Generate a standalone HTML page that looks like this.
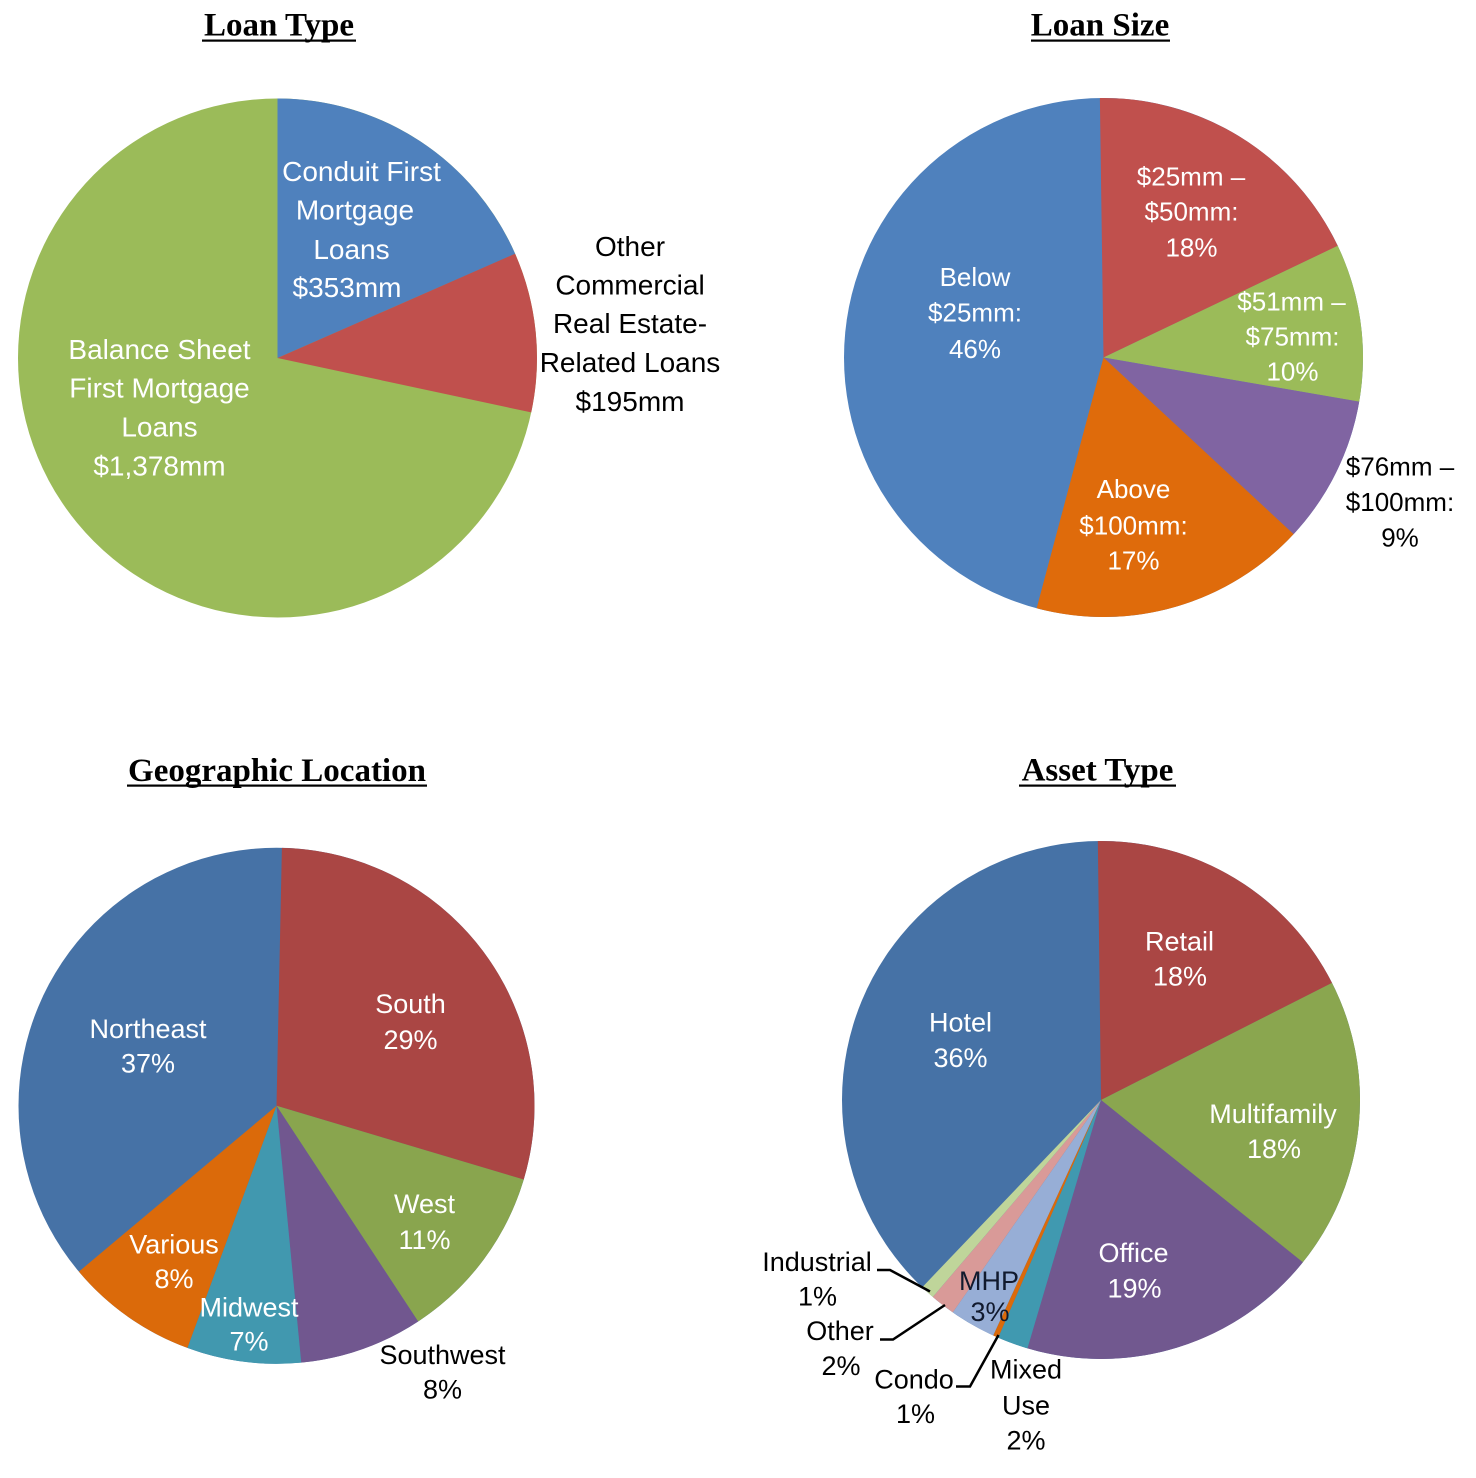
<!DOCTYPE html>
<html>
<head>
<meta charset="utf-8">
<style>
html,body{margin:0;padding:0;background:#fff;}
svg{display:block;}
.t{font-family:"Liberation Serif",serif;font-weight:bold;font-size:33px;fill:#000;}
.l{font-family:"Liberation Sans",sans-serif;text-anchor:middle;}
.w{fill:#fff;}
.k{fill:#000;}
.p1{font-size:28px;}
.p2{font-size:26px;}
.p3{font-size:27px;}
</style>
</head>
<body>
<svg width="1476" height="1478" viewBox="0 0 1476 1478" xmlns="http://www.w3.org/2000/svg">
<rect width="1476" height="1478" fill="#fff"/>

<!-- Titles -->
<text class="t" x="279" y="35.5" text-anchor="middle">Loan Type</text>
<rect x="202" y="39.5" width="154" height="2.2" fill="#000"/>
<text class="t" x="1100" y="35.5" text-anchor="middle">Loan Size</text>
<rect x="1031" y="39.5" width="139" height="2.2" fill="#000"/>
<text class="t" x="277" y="781" text-anchor="middle">Geographic Location</text>
<rect x="127" y="784.5" width="300" height="2.2" fill="#000"/>
<text class="t" x="1097.5" y="780.5" text-anchor="middle">Asset Type</text>
<rect x="1019" y="784.5" width="157" height="2.2" fill="#000"/>

<!-- Pie 1: Loan Type  center (277.5,358) R=259.5 r=129.75 C=815.24 -->
<circle cx="277.5" cy="358" r="259.5" fill="#9BBB59"/>
<circle cx="277.5" cy="358" r="129.75" fill="none" stroke="#4F81BD" stroke-width="259.5" stroke-dasharray="150.14 815.24" transform="rotate(-90 277.5 358)"/>
<circle cx="277.5" cy="358" r="129.75" fill="none" stroke="#C0504D" stroke-width="259.5" stroke-dasharray="81.07 815.24" transform="rotate(-23.7 277.5 358)"/>

<g class="l p1 w">
<text x="361.5" y="181">Conduit First</text>
<text x="355" y="219.5">Mortgage</text>
<text x="351.5" y="259">Loans</text>
<text x="347" y="297">$353mm</text>
<text x="159.5" y="359">Balance Sheet</text>
<text x="159.5" y="397.5">First Mortgage</text>
<text x="159.5" y="436.5">Loans</text>
<text x="159.5" y="475.5">$1,378mm</text>
</g>
<g class="l p1 k">
<text x="630" y="256">Other</text>
<text x="630" y="294.5">Commercial</text>
<text x="630" y="333">Real Estate-</text>
<text x="630" y="372">Related Loans</text>
<text x="630" y="411">$195mm</text>
</g>

<!-- Pie 2: Loan Size center (1103.5,357.5) R=259.5 -->
<circle cx="1103.5" cy="357.5" r="259.5" fill="#4F81BD"/>
<circle cx="1103.5" cy="357.5" r="129.75" fill="none" stroke="#C0504D" stroke-width="259.5" stroke-dasharray="147.88 815.24" transform="rotate(-90.8 1103.5 357.5)"/>
<circle cx="1103.5" cy="357.5" r="129.75" fill="none" stroke="#9BBB59" stroke-width="259.5" stroke-dasharray="79.94 815.24" transform="rotate(-25.5 1103.5 357.5)"/>
<circle cx="1103.5" cy="357.5" r="129.75" fill="none" stroke="#8064A2" stroke-width="259.5" stroke-dasharray="74.96 815.24" transform="rotate(9.8 1103.5 357.5)"/>
<circle cx="1103.5" cy="357.5" r="129.75" fill="none" stroke="#DF6B0B" stroke-width="259.5" stroke-dasharray="140.40 815.24" transform="rotate(42.9 1103.5 357.5)"/>

<g class="l p2 w">
<text x="1191" y="185.5">$25mm –</text>
<text x="1191.5" y="220.5">$50mm:</text>
<text x="1191.5" y="256.5">18%</text>
<text x="975" y="286">Below</text>
<text x="975" y="321.5">$25mm:</text>
<text x="975" y="358">46%</text>
<text x="1291.5" y="310.5">$51mm –</text>
<text x="1292.5" y="345.5">$75mm:</text>
<text x="1292.5" y="380.5">10%</text>
<text x="1133.5" y="498">Above</text>
<text x="1133.5" y="534.5">$100mm:</text>
<text x="1133.5" y="569.5">17%</text>
</g>
<g class="l p2 k">
<text x="1400" y="475.5">$76mm –</text>
<text x="1400" y="511">$100mm:</text>
<text x="1400" y="546.5">9%</text>
</g>

<!-- Pie 3: Geographic center (276.5,1105.8) R=258 r=129 C=810.53 -->
<circle cx="276.5" cy="1105.8" r="258" fill="#4672A6"/>
<circle cx="276.5" cy="1105.8" r="129" fill="none" stroke="#AA4644" stroke-width="258" stroke-dasharray="237.30 810.53" transform="rotate(-88.8 276.5 1105.8)"/>
<circle cx="276.5" cy="1105.8" r="129" fill="none" stroke="#89A54E" stroke-width="258" stroke-dasharray="90.28 810.53" transform="rotate(16.6 276.5 1105.8)"/>
<circle cx="276.5" cy="1105.8" r="129" fill="none" stroke="#71578F" stroke-width="258" stroke-dasharray="62.59 810.53" transform="rotate(56.7 276.5 1105.8)"/>
<circle cx="276.5" cy="1105.8" r="129" fill="none" stroke="#4198AF" stroke-width="258" stroke-dasharray="57.86 810.53" transform="rotate(84.5 276.5 1105.8)"/>
<circle cx="276.5" cy="1105.8" r="129" fill="none" stroke="#DB6A0A" stroke-width="258" stroke-dasharray="67.09 810.53" transform="rotate(110.2 276.5 1105.8)"/>

<g class="l p3 w">
<text x="410.5" y="1013">South</text>
<text x="410.5" y="1049">29%</text>
<text x="148" y="1038">Northeast</text>
<text x="148" y="1072.5">37%</text>
<text x="424.5" y="1213">West</text>
<text x="424.5" y="1249">11%</text>
<text x="174" y="1253.5">Various</text>
<text x="174" y="1288">8%</text>
<text x="249" y="1316.5">Midwest</text>
<text x="249" y="1350.5">7%</text>
</g>
<g class="l p3 k">
<text x="442.5" y="1364">Southwest</text>
<text x="442.5" y="1398.5">8%</text>
</g>

<!-- Pie 4: Asset Type center (1101,1100) R=259 r=129.5 C=813.67 -->
<circle cx="1101" cy="1100" r="259" fill="#4672A6"/>
<circle cx="1101" cy="1100" r="129.5" fill="none" stroke="#AA4644" stroke-width="259" stroke-dasharray="144.20 813.67" transform="rotate(-90.7 1101 1100)"/>
<circle cx="1101" cy="1100" r="129.5" fill="none" stroke="#8AA64F" stroke-width="259" stroke-dasharray="148.49 813.67" transform="rotate(-26.9 1101 1100)"/>
<circle cx="1101" cy="1100" r="129.5" fill="none" stroke="#71588F" stroke-width="259" stroke-dasharray="153.01 813.67" transform="rotate(38.8 1101 1100)"/>
<circle cx="1101" cy="1100" r="129.5" fill="none" stroke="#4099B0" stroke-width="259" stroke-dasharray="15.59 813.67" transform="rotate(106.5 1101 1100)"/>
<circle cx="1101" cy="1100" r="129.5" fill="none" stroke="#DB6A0A" stroke-width="259" stroke-dasharray="2.71 813.67" transform="rotate(113.4 1101 1100)"/>
<circle cx="1101" cy="1100" r="129.5" fill="none" stroke="#97AED6" stroke-width="259" stroke-dasharray="23.28 813.67" transform="rotate(114.6 1101 1100)"/>
<circle cx="1101" cy="1100" r="129.5" fill="none" stroke="#D99A98" stroke-width="259" stroke-dasharray="12.66 813.67" transform="rotate(124.9 1101 1100)"/>
<circle cx="1101" cy="1100" r="129.5" fill="none" stroke="#BFD59A" stroke-width="259" stroke-dasharray="7.23 813.67" transform="rotate(130.5 1101 1100)"/>

<g class="l p3 w">
<text x="1179.5" y="950.5">Retail</text>
<text x="1180" y="985.5">18%</text>
<text x="960.5" y="1031.5">Hotel</text>
<text x="960.5" y="1067">36%</text>
<text x="1273" y="1123">Multifamily</text>
<text x="1274" y="1158">18%</text>
<text x="1133.5" y="1262">Office</text>
<text x="1134.5" y="1297.5">19%</text>
</g>
<g class="l p3" fill="#111a2e">
<text x="989" y="1290">MHP</text>
<text x="990" y="1321">3%</text>
</g>
<g class="l p3 k">
<text x="817" y="1271">Industrial</text>
<text x="817.5" y="1305.5">1%</text>
<text x="840" y="1340">Other</text>
<text x="841" y="1375">2%</text>
<text x="914" y="1388.5">Condo</text>
<text x="915.5" y="1423">1%</text>
<text x="1026" y="1378.5">Mixed</text>
<text x="1026" y="1414.5">Use</text>
<text x="1026" y="1449.5">2%</text>
</g>
<g fill="none" stroke="#000" stroke-width="2.5">
<polyline points="877,1270 890,1270 930,1291.5"/>
<polyline points="880,1339.5 893,1339.5 945,1305"/>
<polyline points="956,1386.5 970,1386.5 998.5,1335"/>
</g>
</svg>
</body>
</html>
